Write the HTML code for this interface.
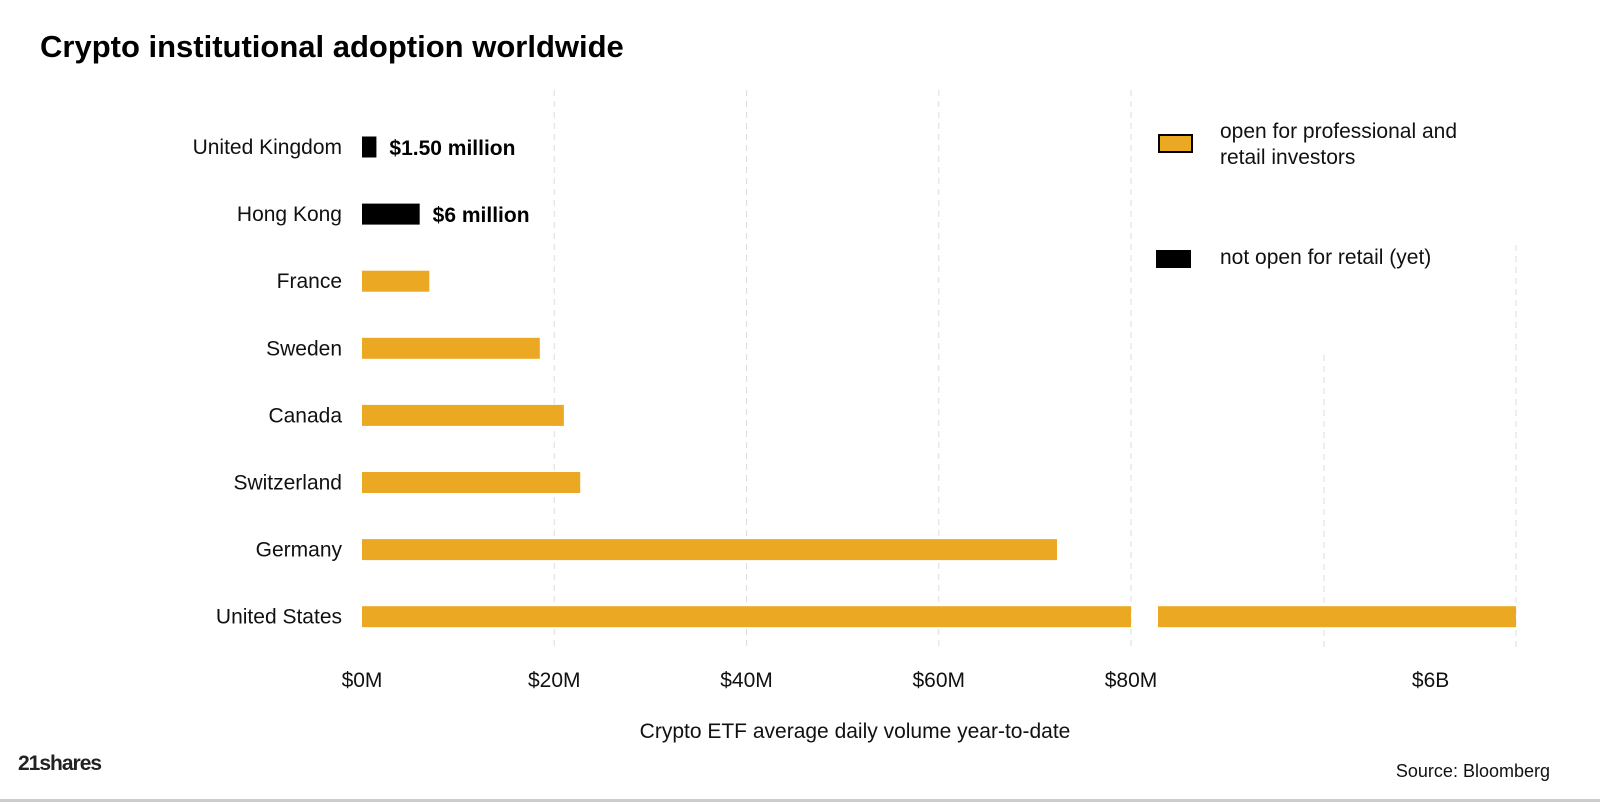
<!DOCTYPE html>
<html><head><meta charset="utf-8"><style>
body{margin:0;background:#fff;width:1600px;height:802px;overflow:hidden;font-family:"Liberation Sans",sans-serif;}
</style></head><body>
<svg width="1600" height="802" xmlns="http://www.w3.org/2000/svg">
<text x="40" y="57" font-size="31" font-weight="bold" fill="#000">Crypto institutional adoption worldwide</text>
<g id="grid"></g><g id="bars"></g><g id="labels"></g>
<g>
<rect x="1159" y="135" width="33" height="17" fill="#eba823" stroke="#000" stroke-width="2"/>
<text x="1220" y="138" font-size="21" fill="#111">open for professional and</text>
<text x="1220" y="164" font-size="21" fill="#111">retail investors</text>
<rect x="1156" y="250" width="35" height="18" fill="#000"/>
<text x="1220" y="264" font-size="21" fill="#111">not open for retail (yet)</text>
</g>
<text x="855" y="738" font-size="21" fill="#111" text-anchor="middle">Crypto ETF average daily volume year-to-date</text>
<text x="18" y="770" font-size="21" font-weight="bold" fill="#222" letter-spacing="-1">21shares</text>
<text x="1550" y="777" font-size="18" fill="#111" text-anchor="end">Source: Bloomberg</text>
<rect x="0" y="799" width="1600" height="3" fill="#ccc"/>
</svg>
<script>
const categories=["United Kingdom","Hong Kong","France","Sweden","Canada","Switzerland","Germany","United States"];
const values=[1.5,6,7,18.5,21,22.7,72.3,8000];
const retailOpen=[false,false,true,true,true,true,true,true];
const annotations=["$1.50 million","$6 million","","","","","",""];
const ticks=[0,20,40,60,80];
const tickLabels=["$0M","$20M","$40M","$60M","$80M"];
const breakTickValue=6000;const breakTickLabel="$6B";
const NS="http://www.w3.org/2000/svg";
const x0=362,pxPerM=(1131-362)/80;
const x=v=>x0+v*pxPerM;
const bx=v=>1158+(v-80)/(8000-80)*(1516-1158); // broken segment
const y=i=>147+i*67.1;
const barH=21;
function mk(t,a,p){const e=document.createElementNS(NS,t);for(const k in a)e.setAttribute(k,a[k]);document.getElementById(p).appendChild(e);return e;}
ticks.forEach((t,i)=>{
 if(i>0){const l=mk('line',{x1:x(t),x2:x(t),y1:90,y2:650,stroke:'#ddd','stroke-dasharray':'6,5'},'grid');
 
 }
 const tx=mk('text',{x:x(t),y:687,'font-size':21,'text-anchor':'middle',fill:'#111'},'labels');tx.textContent=tickLabels[i];
 
 
});
[[1324,355],[1516,245]].forEach(g=>{const l=mk('line',{x1:g[0],x2:g[0],y1:g[1],y2:650,stroke:'#ddd','stroke-dasharray':'6,5'},'grid');
 
 });
const bt=mk('text',{x:bx(breakTickValue)+5,y:687,'font-size':21,'text-anchor':'middle',fill:'#111'},'labels');bt.textContent=breakTickLabel;


categories.forEach((c,i)=>{
 const col=retailOpen[i]?'#eba823':'#000';
 const v=values[i];
 const r=mk('rect',{x:x0,y:y(i)-barH/2,width:x(Math.min(v,80))-x0,height:barH,fill:col},'bars');
 
 
 if(v>80){const r2=mk('rect',{x:1158,y:y(i)-barH/2,width:bx(v)-1158,height:barH,fill:col},'bars');
 
 }
 const t=mk('text',{x:342,y:y(i)+7,'font-size':21,'text-anchor':'end',fill:'#111'},'labels');t.textContent=c;
 
 
 if(annotations[i]){const a=mk('text',{x:x(v)+13,y:y(i)+8,'font-size':21,'font-weight':'bold',fill:'#000'},'labels');a.textContent=annotations[i];
 
 }
});
</script>
</body></html>
